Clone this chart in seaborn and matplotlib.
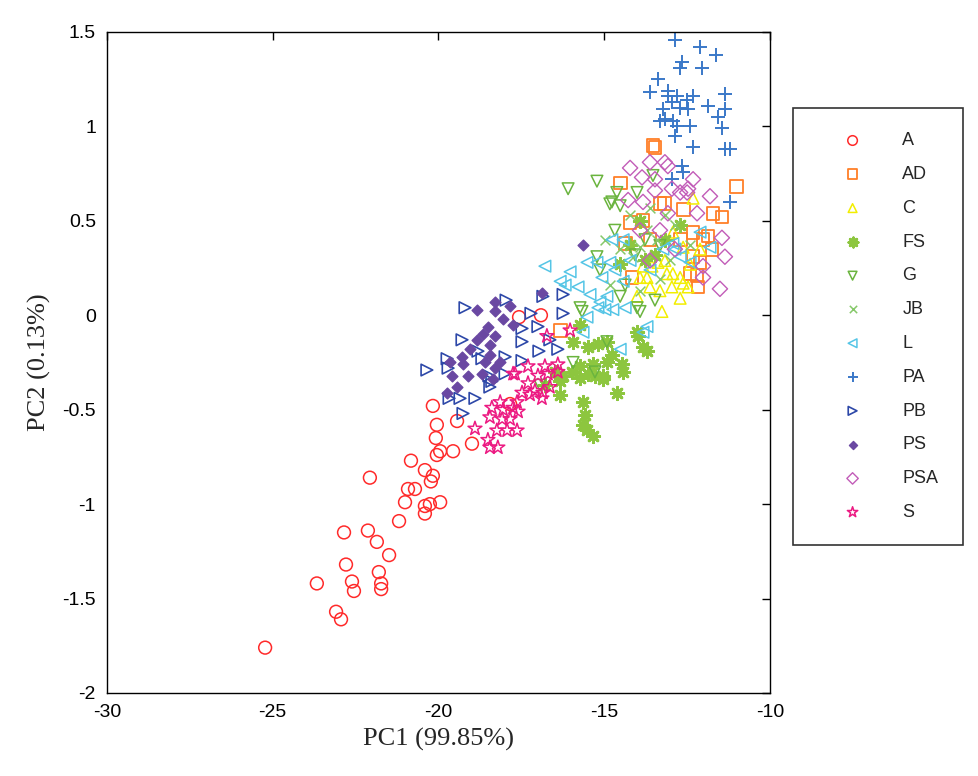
import numpy as np
import pandas as pd
import matplotlib
matplotlib.use("Agg")
import matplotlib.pyplot as plt
import seaborn as sns

# PCA scores per group
A_x = [-20.17, -20.05, -19.44, -20.08, -19.95, -20.05, -19.56, -18.99, -20.83, -20.41,
       -20.17, -20.23, -22.07, -20.92, -20.71, -21.01, -20.41, -20.26, -19.95, -20.41,
       -21.19, -22.85, -22.13, -21.86, -21.49, -22.79, -21.80, -23.67, -22.61, -22.55,
       -21.73, -21.73, -23.09, -22.94, -25.23, -17.57, -16.91, -17.84]
A_y = [-0.48, -0.58, -0.56, -0.65, -0.72, -0.74, -0.72, -0.68, -0.77, -0.82,
       -0.85, -0.88, -0.86, -0.92, -0.92, -0.99, -1.01, -1.00, -0.99, -1.05,
       -1.09, -1.15, -1.14, -1.20, -1.27, -1.32, -1.36, -1.42, -1.41, -1.46,
       -1.42, -1.45, -1.57, -1.61, -1.76, -0.01, 0.00, -0.47]

AD_x = [-13.53, -13.47, -14.52, -11.00, -13.17, -12.62, -11.72, -11.45, -14.22, -13.83,
        -12.32, -12.02, -11.87, -11.75, -12.32, -12.11, -14.16, -12.41, -12.20, -12.17,
        -16.33, -13.32, -14.37, -12.71, -13.62]
AD_y = [0.90, 0.89, 0.70, 0.68, 0.59, 0.56, 0.54, 0.52, 0.49, 0.50,
        0.44, 0.40, 0.42, 0.35, 0.31, 0.28, 0.20, 0.22, 0.21, 0.15,
        -0.08, 0.59, 0.38, 0.40, 0.40]

C_x = [-12.32, -12.93, -12.62, -13.38, -13.83, -13.92, -12.71, -12.47, -12.71, -14.01,
       -13.26, -13.62, -12.96, -13.11, -12.62, -13.17, -13.71, -13.32, -13.56, -12.93,
       -12.11, -12.41]
C_y = [0.62, 0.44, 0.36, 0.28, 0.26, 0.20, 0.20, 0.15, 0.09, 0.10,
       0.02, 0.15, 0.15, 0.22, 0.17, 0.29, 0.20, 0.13, 0.26, 0.22,
       0.35, 0.27]

FS_x = [-15.73, -15.94, -15.49, -15.19, -14.92, -14.77, -14.92, -15.34, -14.46, -14.43,
        -13.98, -13.83, -13.71, -16.24, -15.97, -15.73, -15.49, -15.28, -15.04, -15.04,
        -16.33, -16.33, -14.62, -15.64, -15.58, -15.64, -15.52, -15.34, -14.01, -15.73,
        -16.79, -16.49, -14.52, -13.77, -13.47, -13.92, -14.22, -13.17, -12.71]
FS_y = [-0.05, -0.14, -0.17, -0.15, -0.14, -0.21, -0.25, -0.26, -0.26, -0.30,
        -0.11, -0.17, -0.19, -0.32, -0.30, -0.33, -0.31, -0.32, -0.32, -0.34,
        -0.35, -0.42, -0.41, -0.46, -0.53, -0.58, -0.61, -0.64, -0.09, -0.27,
        -0.37, -0.30, 0.27, 0.29, 0.32, 0.50, 0.37, 0.40, 0.48]

G_x = [-16.09, -15.22, -14.62, -14.01, -14.77, -14.52, -13.53, -15.67, -14.01, -15.73,
       -14.92, -15.94, -15.28, -13.92, -14.83, -15.22, -14.52, -14.68, -13.77, -13.32,
       -14.07, -14.37, -13.47, -15.13, -16.94]
G_y = [0.67, 0.71, 0.65, 0.65, 0.60, 0.58, 0.74, 0.02, 0.04, 0.04,
       -0.14, -0.25, -0.30, 0.02, 0.59, 0.31, 0.10, 0.45, 0.40, 0.37,
       0.32, 0.16, 0.08, 0.24, -0.37]

JB_x = [-13.62, -13.71, -13.92, -13.02, -13.41, -14.13, -14.52, -13.32, -12.87, -14.83,
        -12.41, -13.92, -13.17, -14.22, -14.98]
JB_y = [0.57, 0.45, 0.36, 0.29, 0.40, 0.31, 0.35, 0.19, 0.48, 0.16,
        0.37, 0.13, 0.53, 0.53, 0.40]

L_x = [-16.79, -16.03, -16.33, -15.79, -15.22, -14.83, -14.68, -15.07, -14.43, -14.92,
       -15.19, -14.74, -15.52, -14.43, -14.77, -12.93, -12.41, -12.71, -15.13, -15.52,
       -15.64, -14.52, -13.71, -14.37, -14.98, -13.83, -12.11, -11.81, -12.87, -13.23,
       -16.18, -14.22, -13.62, -15.43]
L_y = [0.26, 0.23, 0.18, 0.15, 0.28, 0.28, 0.24, 0.20, 0.18, 0.10,
       0.04, 0.03, 0.28, 0.40, 0.40, 0.38, 0.28, 0.31, 0.07, -0.01,
       -0.09, -0.18, -0.06, 0.04, 0.03, -0.09, 0.44, 0.36, 0.35, 0.35,
       0.16, 0.29, 0.24, 0.11]

PA_x = [-12.87, -11.63, -12.65, -12.71, -12.05, -13.38, -13.62, -13.08, -13.08, -12.81,
        -12.96, -12.50, -12.32, -11.36, -11.87, -12.71, -12.47, -13.23, -13.17, -13.32,
        -12.93, -12.81, -12.41, -11.36, -11.57, -11.45, -12.87, -12.32, -11.36, -11.21,
        -12.65, -12.96, -12.62, -11.21, -12.11]
PA_y = [1.46, 1.38, 1.34, 1.31, 1.31, 1.25, 1.18, 1.19, 1.16, 1.16,
        1.13, 1.14, 1.16, 1.17, 1.11, 1.10, 1.09, 1.09, 1.04, 1.03,
        1.03, 1.00, 1.00, 1.09, 1.05, 0.99, 0.95, 0.89, 0.88, 0.88,
        0.79, 0.72, 0.76, 0.60, 1.42]

PB_x = [-19.20, -17.96, -16.85, -16.24, -17.21, -16.24, -17.48, -17.00, -19.29, -17.48,
        -16.97, -16.40, -18.81, -19.74, -17.99, -17.48, -20.35, -19.71, -18.48, -17.99,
        -18.45, -19.68, -19.35, -18.90, -19.26, -18.39, -16.64, -18.69]
PB_y = [0.04, 0.08, 0.10, 0.11, 0.01, 0.01, -0.07, -0.06, -0.13, -0.14,
        -0.19, -0.18, -0.19, -0.23, -0.22, -0.24, -0.29, -0.28, -0.32, -0.31,
        -0.38, -0.44, -0.44, -0.44, -0.52, -0.35, -0.13, -0.23]

PS_x = [-18.84, -18.30, -18.30, -17.84, -18.05, -17.75, -18.51, -18.66, -18.30, -18.84,
        -19.29, -19.65, -19.26, -18.60, -18.30, -18.69, -19.11, -19.59, -18.36, -19.44,
        -19.74, -16.88, -18.45, -18.14, -15.64, -19.05, -18.45]
PS_y = [0.03, 0.07, 0.02, 0.05, -0.02, -0.05, -0.06, -0.10, -0.11, -0.13,
        -0.22, -0.25, -0.26, -0.25, -0.28, -0.31, -0.32, -0.32, -0.34, -0.38,
        -0.41, 0.12, -0.21, -0.25, 0.37, -0.18, -0.16]

PSA_x = [-14.22, -13.62, -13.17, -13.08, -13.86, -13.47, -13.47, -12.96, -12.71, -12.47,
         -12.32, -11.81, -14.28, -13.83, -13.08, -12.20, -11.45, -11.36, -11.51, -12.02,
         -13.62, -12.50, -12.02, -13.32, -13.92, -12.87]
PSA_y = [0.78, 0.81, 0.81, 0.79, 0.73, 0.72, 0.66, 0.67, 0.65, 0.67,
         0.72, 0.63, 0.61, 0.60, 0.54, 0.54, 0.41, 0.31, 0.14, 0.26,
         0.29, 0.65, 0.20, 0.45, 0.45, 0.35]

S_x = [-16.03, -16.73, -17.75, -17.30, -16.79, -16.40, -16.70, -17.30, -17.48, -17.24,
       -16.88, -16.64, -16.85, -17.63, -18.14, -18.39, -18.05, -17.75, -17.60, -18.45,
       -18.08, -17.84, -18.24, -17.93, -17.63, -18.90, -18.51, -18.21, -18.45, -17.69,
       -17.00, -16.40, -17.09]
S_y = [-0.08, -0.11, -0.31, -0.27, -0.27, -0.26, -0.31, -0.36, -0.41, -0.42,
       -0.44, -0.38, -0.41, -0.46, -0.46, -0.49, -0.50, -0.49, -0.51, -0.54,
       -0.55, -0.55, -0.61, -0.61, -0.61, -0.60, -0.66, -0.70, -0.70, -0.31,
       -0.32, -0.30, -0.40]

groups = ['A', 'AD', 'C', 'FS', 'G', 'JB', 'L', 'PA', 'PB', 'PS', 'PSA', 'S']
xs = [A_x, AD_x, C_x, FS_x, G_x, JB_x, L_x, PA_x, PB_x, PS_x, PSA_x, S_x]
ys = [A_y, AD_y, C_y, FS_y, G_y, JB_y, L_y, PA_y, PB_y, PS_y, PSA_y, S_y]

# marker, colour, size, hollow?, linewidth
styles = {
    'A':   ('o', '#ff2a2a', 85, True, 1.1),
    'AD':  ('s', '#ff7f27', 85, True, 1.3),
    'C':   ('^', '#f2ee00', 70, True, 1.1),
    'FS':  ((8, 2, 0), '#8dc63f', 80, False, 2.0),
    'G':   ('v', '#6ab43e', 70, True, 1.1),
    'JB':  ('x', '#86c86a', 50, False, 1.1),
    'L':   ('<', '#55c5e6', 70, True, 1.1),
    'PA':  ('+', '#3a78c8', 110, False, 1.4),
    'PB':  ('>', '#2d48a8', 70, True, 1.2),
    'PS':  ('D', '#6a48a2', 30, False, 1.0),
    'PSA': ('D', '#c25cb8', 60, True, 1.0),
    'S':   ('*', '#ec1a82', 110, True, 1.1),
}

sns.set_style('white')
plt.rcParams['font.family'] = ['Liberation Sans', 'DejaVu Sans']

fig = plt.figure(figsize=(9.79, 7.76), dpi=100)
ax = fig.add_axes([0.1093, 0.107, 0.6772, 0.8518])

for g, x, y in zip(groups, xs, ys):
    m, c, s, hollow, lw = styles[g]
    df = pd.DataFrame({'PC1': x, 'PC2': y})
    if hollow:
        sns.scatterplot(data=df, x='PC1', y='PC2', ax=ax, marker=m, s=s,
                        color=c, facecolor='none', edgecolor=c, linewidth=lw, label=g)
    else:
        sns.scatterplot(data=df, x='PC1', y='PC2', ax=ax, marker=m, s=s,
                        color=c, edgecolor=c, linewidth=lw, label=g)

ax.set_xlim(-30, -10)
ax.set_ylim(-2, 1.5)
ax.set_xticks([-30, -25, -20, -15, -10])
ax.set_yticks([-2, -1.5, -1, -0.5, 0, 0.5, 1, 1.5])
ax.set_yticklabels(['-2', '-1.5', '-1', '-0.5', '0', '0.5', '1', '1.5'])
ax.set_xticklabels(['-30', '-25', '-20', '-15', '-10'])
ax.tick_params(direction='in', length=6, width=1, top=True, right=True,
               labelsize=14, colors='black', pad=8)
for sp in ax.spines.values():
    sp.set_color('black')
    sp.set_linewidth(1.0)

ax.set_xlabel('PC1 (99.85%)', fontsize=19, family='Liberation Serif', labelpad=5)
ax.set_ylabel('PC2 (0.13%)', fontsize=19, family='Liberation Serif', labelpad=8)

leg = ax.legend(loc='upper left', bbox_to_anchor=(0.810, 0.861),
                bbox_transform=fig.transFigure, frameon=True, fancybox=False,
                edgecolor='black', fontsize=13, labelspacing=0.93,
                handletextpad=0.8, borderpad=1.35, markerscale=0.75,
                borderaxespad=0, handlelength=3.9)
leg.get_frame().set_linewidth(1.2)

fig.savefig('out.png', dpi=100)
